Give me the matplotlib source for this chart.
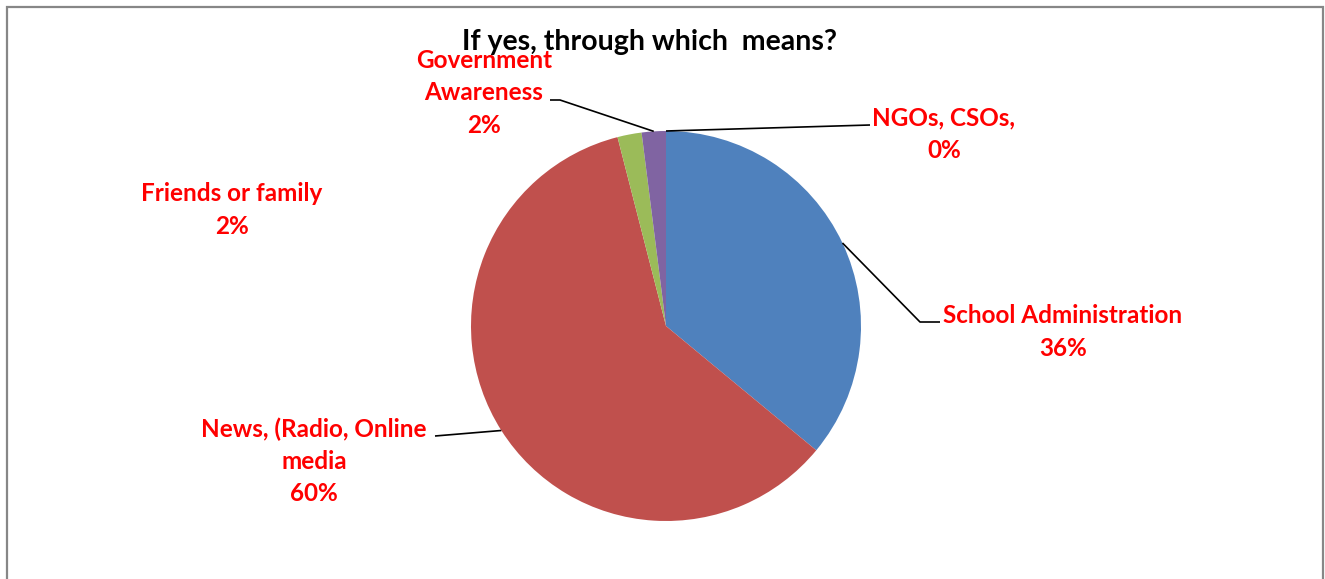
import numpy as np
import matplotlib
matplotlib.use('Agg')
import matplotlib.pyplot as plt
from matplotlib.patches import Rectangle

plt.rcParams['font.family'] = ['Lato', 'DejaVu Sans']

# data
categories = ['School Administration', 'News, (Radio, Online\nmedia', 'Friends or family',
              'Government\nAwareness', 'NGOs, CSOs,']
shares = [36, 60, 2, 2, 0]
colours = ['#4F81BD', '#C0504D', '#9BBB59', '#8064A2', '#4BACC6']
label_texts = [c + '\n' + '%d%%' % v for c, v in zip(categories, shares)]

W, H = 1325, 579
fig = plt.figure(figsize=(W / 100, H / 100), dpi=100)
ax = fig.add_axes([0, 0, 1, 1])

def py(y):
    # pixel row (from top) -> data y
    return H - y

cx, cy, r = 666, py(326), 195
wedges, _ = ax.pie(shares, colors=colours, startangle=90, counterclock=False,
                   center=(cx, cy), radius=r, wedgeprops=dict(linewidth=0))
ax.set_xlim(0, W)
ax.set_ylim(0, H)
ax.set_aspect('equal')
ax.set_axis_off()

def rim(w):
    a = np.deg2rad((w.theta1 + w.theta2) / 2)
    return cx + r * np.cos(a), cy + r * np.sin(a)

# label positions (centre of text block) and leader-line elbows, in pixels
label_pos = [(1063, 332), (314, 461), (232, 210), (484, 93), (944, 134)]
leaders = [[(940, 322), (920, 322)], [(435, 436)], None, [(550, 100), (560, 100)], [(870, 125)]]

for w, txt, (lx, ly), lead in zip(wedges, label_texts, label_pos, leaders):
    ax.text(lx, py(ly), txt, ha='center', va='center', color='#FF0000',
            fontsize=17.5, fontweight='bold', linespacing=1.48)
    if lead:
        px, pyy = rim(w)
        xs = [p[0] for p in lead] + [px]
        ys = [py(p[1]) for p in lead] + [pyy]
        ax.plot(xs, ys, color='black', lw=1.2, solid_capstyle='butt')

fig.text(650 / W, 1 - 42 / H, 'If yes, through which  means?', ha='center', va='center',
         fontsize=20.5, fontweight='bold', color='black')

fig.patches.append(Rectangle((7 / W, -0.05), (1323 - 7) / W, 1.05 - 7 / H,
                             transform=fig.transFigure, fill=False,
                             edgecolor='#878787', linewidth=1.6))

fig.savefig('out.png', dpi=100)
